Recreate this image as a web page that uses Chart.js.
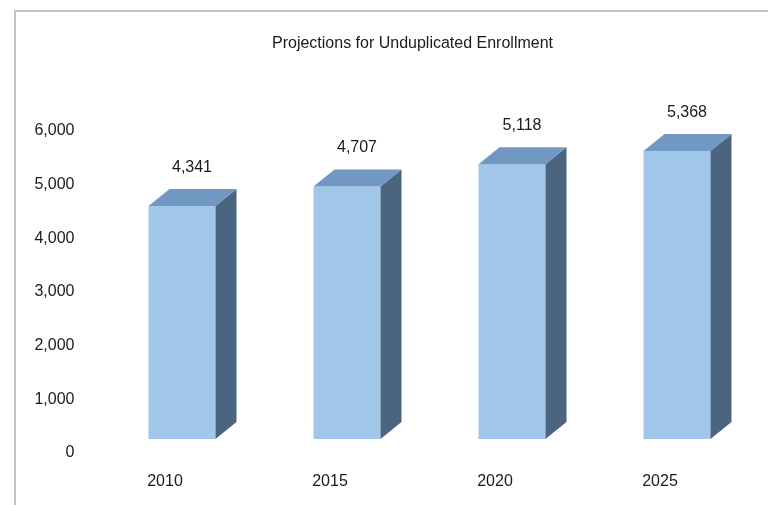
<!DOCTYPE html>
<html>
<head>
<meta charset="utf-8">
<script src="https://cdn.jsdelivr.net/npm/chart.js@4.4.1/dist/chart.umd.min.js"></script>
<style>
    html, body { margin: 0; padding: 0; background: #fff; }
    #wrap { position: relative; width: 768px; height: 505px; }
    #frame {
        position: absolute; left: 14px; top: 10px; right: 0; bottom: 0;
        border-left: 2px solid #c4c4c4; border-top: 2px solid #c4c4c4;
        pointer-events: none;
    }
    canvas { position: absolute; left: 0; top: 0; }
</style>
</head>
<body>
<div id="wrap">
    <canvas id="enrollChart" width="768" height="505"></canvas>
    <div id="frame"></div>
</div>
<script>
// Unduplicated enrollment, actual 2010 and projected years
const years = ['2010', '2015', '2020', '2025'];
const enrollment = [4341, 4707, 5118, 5368];

const FONT = "'Liberation Sans Narrow', 'Arial Narrow', 'Liberation Sans', Arial, sans-serif";
const COLORS = {
    front: '#a0c6ea',
    top: '#7198c3',
    side: '#4b6580',
    text: '#1a1a1a',
};

// bar block offset from the axis plane, and depth of the extruded faces
const SHIFT = { x: 17, y: -14 };
const DEPTH = { x: 21, y: 17 };

const fmt = v => v.toLocaleString('en-US');

// Draws bars shifted off the floor and adds top + side faces and value labels
const bars3d = {
    id: 'bars3d',
    beforeDatasetsDraw(chart) {
        chart.ctx.save();
        chart.ctx.translate(SHIFT.x, SHIFT.y);
    },
    afterDatasetsDraw(chart) {
        const ctx = chart.ctx;
        const meta = chart.getDatasetMeta(0);
        meta.data.forEach((bar, i) => {
            const { x, y, base, width } = bar.getProps(['x', 'y', 'base', 'width'], true);
            const l = x - width / 2, r = x + width / 2;

            // side face
            ctx.beginPath();
            ctx.moveTo(r, y);
            ctx.lineTo(r + DEPTH.x, y - DEPTH.y);
            ctx.lineTo(r + DEPTH.x, base - DEPTH.y);
            ctx.lineTo(r, base);
            ctx.closePath();
            ctx.fillStyle = COLORS.side;
            ctx.fill();

            // top face
            ctx.beginPath();
            ctx.moveTo(l, y);
            ctx.lineTo(l + DEPTH.x, y - DEPTH.y);
            ctx.lineTo(r + DEPTH.x, y - DEPTH.y);
            ctx.lineTo(r, y);
            ctx.closePath();
            ctx.fillStyle = COLORS.top;
            ctx.fill();

            // value label above the block
            ctx.fillStyle = COLORS.text;
            ctx.font = '16px ' + FONT;
            ctx.textAlign = 'center';
            ctx.textBaseline = 'middle';
            ctx.fillText(fmt(enrollment[i]), x + 10, y - 38.5);
        });
        ctx.restore();
    },
};

new Chart(document.getElementById('enrollChart'), {
    type: 'bar',
    data: {
        labels: years,
        datasets: [{
            data: enrollment,
            backgroundColor: COLORS.front,
            borderWidth: 0,
            categoryPercentage: 1,
            barPercentage: 0.406,
        }],
    },
    options: {
        responsive: false,
        animation: false,
        devicePixelRatio: 1,
        layout: { padding: { left: 0, right: 25.5, top: 0, bottom: 0 } },
        plugins: {
            legend: { display: false },
            tooltip: { enabled: false },
            title: {
                display: true,
                fullSize: false,
                text: 'Projections for Unduplicated Enrollment',
                color: COLORS.text,
                font: { family: FONT, size: 16, weight: 'normal', lineHeight: 1.2 },
                padding: { top: 33.5, bottom: 78.3 },
            },
        },
        scales: {
            x: {
                grid: { display: false, drawTicks: false },
                border: { display: false },
                ticks: {
                    color: COLORS.text,
                    font: { family: FONT, size: 16 },
                    padding: 19,
                },
                afterFit: s => { s.height = 52; },
            },
            y: {
                min: 0,
                max: 6000,
                grid: { display: false, drawTicks: false },
                border: { display: false },
                ticks: {
                    stepSize: 1000,
                    color: COLORS.text,
                    font: { family: FONT, size: 16 },
                    padding: 8,
                    callback: v => fmt(v),
                },
                afterFit: s => { s.width = 82.5; },
            },
        },
    },
    plugins: [bars3d],
});
</script>
</body>
</html>
